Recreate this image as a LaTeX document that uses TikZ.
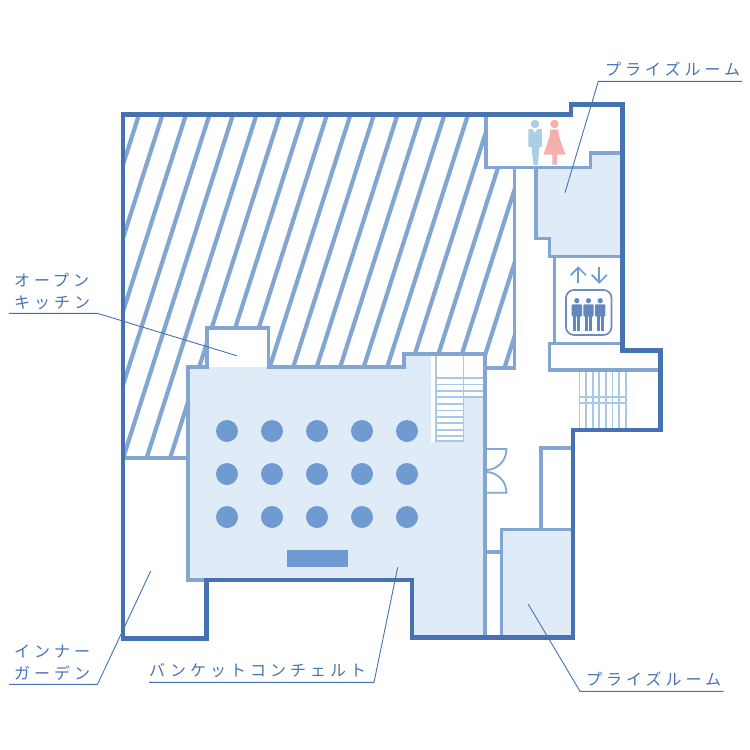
\documentclass[tikz,border=0pt]{standalone}
\usepackage{fontspec}
\newfontfamily\cjk[LetterSpace=25]{Noto Sans CJK JP}
\definecolor{wallblue}{HTML}{4672B2}
\definecolor{innerblue}{HTML}{82A6D1}
\definecolor{roomblue}{HTML}{DFECF8}
\definecolor{seatblue}{HTML}{6F9BD1}
\definecolor{stairblue}{HTML}{A8C8E8}
\definecolor{manblue}{HTML}{A9CFE6}
\definecolor{womanred}{HTML}{F4B0AA}
\tikzset{
  outerwall/.style={draw=wallblue, line width=4.8, line join=miter},
  innerwall/.style={draw=innerblue, line width=3.6, line join=miter},
  thinwall/.style={draw=innerblue, line width=1.8},
  stairline/.style={draw=stairblue, line width=1.7},
  leader/.style={draw=wallblue, line width=0.9},
  roomlabel/.style={text=wallblue, font=\cjk\fontsize{16}{16}\selectfont, inner sep=0, anchor=base west},
}
\begin{document}
\begin{tikzpicture}[x=1pt,y=-1pt]
\useasboundingbox (0,0) rectangle (750,750);
% rooms
\fill[roomblue] (188,367)--(404,367)--(404,354)--(485,354)--(485,637)--(412,637)--(412,580)--(188,580)--cycle;
\fill[roomblue] (501,529) rectangle (573,637);
\fill[roomblue] (536,167)--(590.5,167)--(590.5,153)--(622,153)--(622,256.5)--(549.5,256.5)--(549.5,238.5)--(536,238.5)--cycle;
% hatching
\begin{scope}
\clip (122,114)--(486,114)--(486,167)--(514.5,167)--(514.5,368)--(485,368)--(485,354)--(404,354)--(404,367)--(268,367)--(268,328)--(207,328)--(207,367)--(188,367)--(188,458)--(122,458)--cycle;
\foreach \k in {0,...,20} \draw[draw=innerblue, line width=4.2] ({139.2+23.5*\k},114)--({139.2+23.5*\k-0.32*360},474);
\end{scope}
% stairs, hall side
\fill[white] (431,355.5) rectangle (483.5,397);
\fill[white] (431,397) rectangle (463.5,441.7);
\draw[stairline] (436,355)--(436,441)--(463.5,441)--(463.5,355);
\foreach \y in {378.3,384.5,391,397.3} \draw[stairline] (436,\y)--(484,\y);
\foreach \y in {404,410.5,417,423.3,429.7,436} \draw[stairline] (436,\y)--(463.5,\y);
% stairs, east side
\foreach \x in {579.5,586,592.7,599.2,605.8,612.5,619.2,625.7} \draw[stairline] (\x,370)--(\x,429);
\draw[stairline] (579.5,397.3)--(625.7,397.3);
\draw[stairline] (579.5,402.7)--(625.7,402.7);
% inner walls
\draw[innerwall] (206,580)--(188,580)--(188,367)--(207,367)--(207,328)--(268.5,328)--(268.5,367)--(404,367)--(404,354)--(485,354)--(485,637);
\draw[innerwall] (485,354)--(485,368)--(514.5,368)--(514.5,167);
\draw[innerwall] (486,114)--(486,167.5)--(590.5,167.5)--(590.5,153)--(622,153);
\draw[innerwall] (536,167.5)--(536,238.5)--(549.5,238.5)--(549.5,256.5)--(622,256.5);
\draw[innerwall] (554.5,256.5)--(554.5,343.5);
\draw[innerwall] (622,343.5)--(549.5,343.5)--(549.5,370)--(660,370);
\draw[innerwall] (541,529)--(541,448)--(573,448);
\draw[innerwall] (573,529.5)--(501.5,529.5)--(501.5,637);
\draw[innerwall] (485,551.7)--(501.5,551.7);
\draw[innerwall] (122,458)--(188,458);
% doors
\draw[thinwall] (485,449)--(506.5,449) .. controls (506.5,461) and (497,470) .. (486,470);
\draw[thinwall] (485,492.7)--(506.5,492.7) .. controls (506.5,481) and (497,472) .. (486,472);
% outer wall
\draw[outerwall] (123,114.5)--(571,114.5)--(571,104.5)--(622.5,104.5)--(622.5,350.5)--(660.5,350.5)--(660.5,430)--(573,430)--(573,637.5)--(412,637.5)--(412,580)--(206.5,580)--(206.5,638.5)--(123,638.5)--cycle;
% seats and stage
\foreach \x in {227,272,317,362,407} \foreach \y in {431,474,517} \fill[seatblue] (\x,\y) circle[radius=11];
\fill[seatblue] (286.5,550) rectangle (347.5,567);
% lift
\draw[draw=seatblue, line width=1.7] (578.3,283)--(578.3,267.5);
\draw[draw=seatblue, line width=1.7] (570.7,275.2)--(578.3,267.5)--(585.9,275.2);
\draw[draw=seatblue, line width=1.7] (599.3,267)--(599.3,282.5);
\draw[draw=seatblue, line width=1.7] (591.7,274.8)--(599.3,282.5)--(606.9,274.8);
\draw[draw=wallblue!80!white, line width=1.7, rounded corners=8] (566,290) rectangle (611.5,335);
\foreach \x in {576.8,588.5,600.2} {
  \fill[wallblue!85!white] (\x,300.7) circle[radius=2.6];
  \fill[wallblue!85!white, rounded corners=1] (\x-5.2,304.3) rectangle (\x+5.2,316.5);
  \fill[wallblue!85!white] (\x-3.6,314) rectangle (\x-0.6,330.7);
  \fill[wallblue!85!white] (\x+0.6,314) rectangle (\x+3.6,330.7);
}
% toilets
\fill[manblue] (535,124) circle[radius=4.2];
\fill[manblue, rounded corners=0.8] (528.3,129)--(532.5,129)--(535,133)--(537.5,129)--(541.8,129)--(541.8,147)--(539.3,147)--(538,165)--(533.5,165)--(531.5,147)--(528.3,147)--cycle;
\fill[womanred] (554.5,124) circle[radius=4.2];
\fill[womanred] (550,129.5)--(558.5,129.5)--(558.5,135)--(565.5,154.5)--(556.8,154.5)--(556.8,164.5)--(552.3,164.5)--(552.3,154.5)--(543.5,154.5)--(550,135)--cycle;
% labels
\node[roomlabel] (prizea) at (605,75) {プライズルーム};
\node[roomlabel] (kitchena) at (14,286) {オープン};
\node[roomlabel] (kitchenb) at (14,308) {キッチン};
\node[roomlabel] (gardena) at (14,657) {インナー};
\node[roomlabel] (gardenb) at (14,679) {ガーデン};
\node[roomlabel] (banquet) at (149,676) {バンケットコンチェルト};
\node[roomlabel] (prizeb) at (586,685) {プライズルーム};
% leaders
\coordinate (prizeaend) at (742,81.3);
\coordinate (prizeaknee) at (598.3,81.3);
\coordinate (prizeain) at (565,192.7);
\coordinate (kitchenstart) at (9,313.3);
\coordinate (kitchenknee) at (97.3,313.3);
\coordinate (kitchenin) at (236.7,355.7);
\coordinate (gardenstart) at (9,684.3);
\coordinate (gardenknee) at (97.5,684.3);
\coordinate (gardenin) at (150.7,571);
\coordinate (banquetstart) at (149,682.3);
\coordinate (banquetknee) at (374,682.3);
\coordinate (banquetin) at (397.7,567.3);
\coordinate (prizebend) at (723.5,691.3);
\coordinate (prizebknee) at (580,691.3);
\coordinate (prizebin) at (528.3,604.3);
\draw[leader] (prizeaend)--(prizeaknee)--(prizeain);
\draw[leader] (kitchenstart)--(kitchenknee)--(kitchenin);
\draw[leader] (gardenstart)--(gardenknee)--(gardenin);
\draw[leader] (banquetstart)--(banquetknee)--(banquetin);
\draw[leader] (prizebend)--(prizebknee)--(prizebin);
\end{tikzpicture}
\end{document}
